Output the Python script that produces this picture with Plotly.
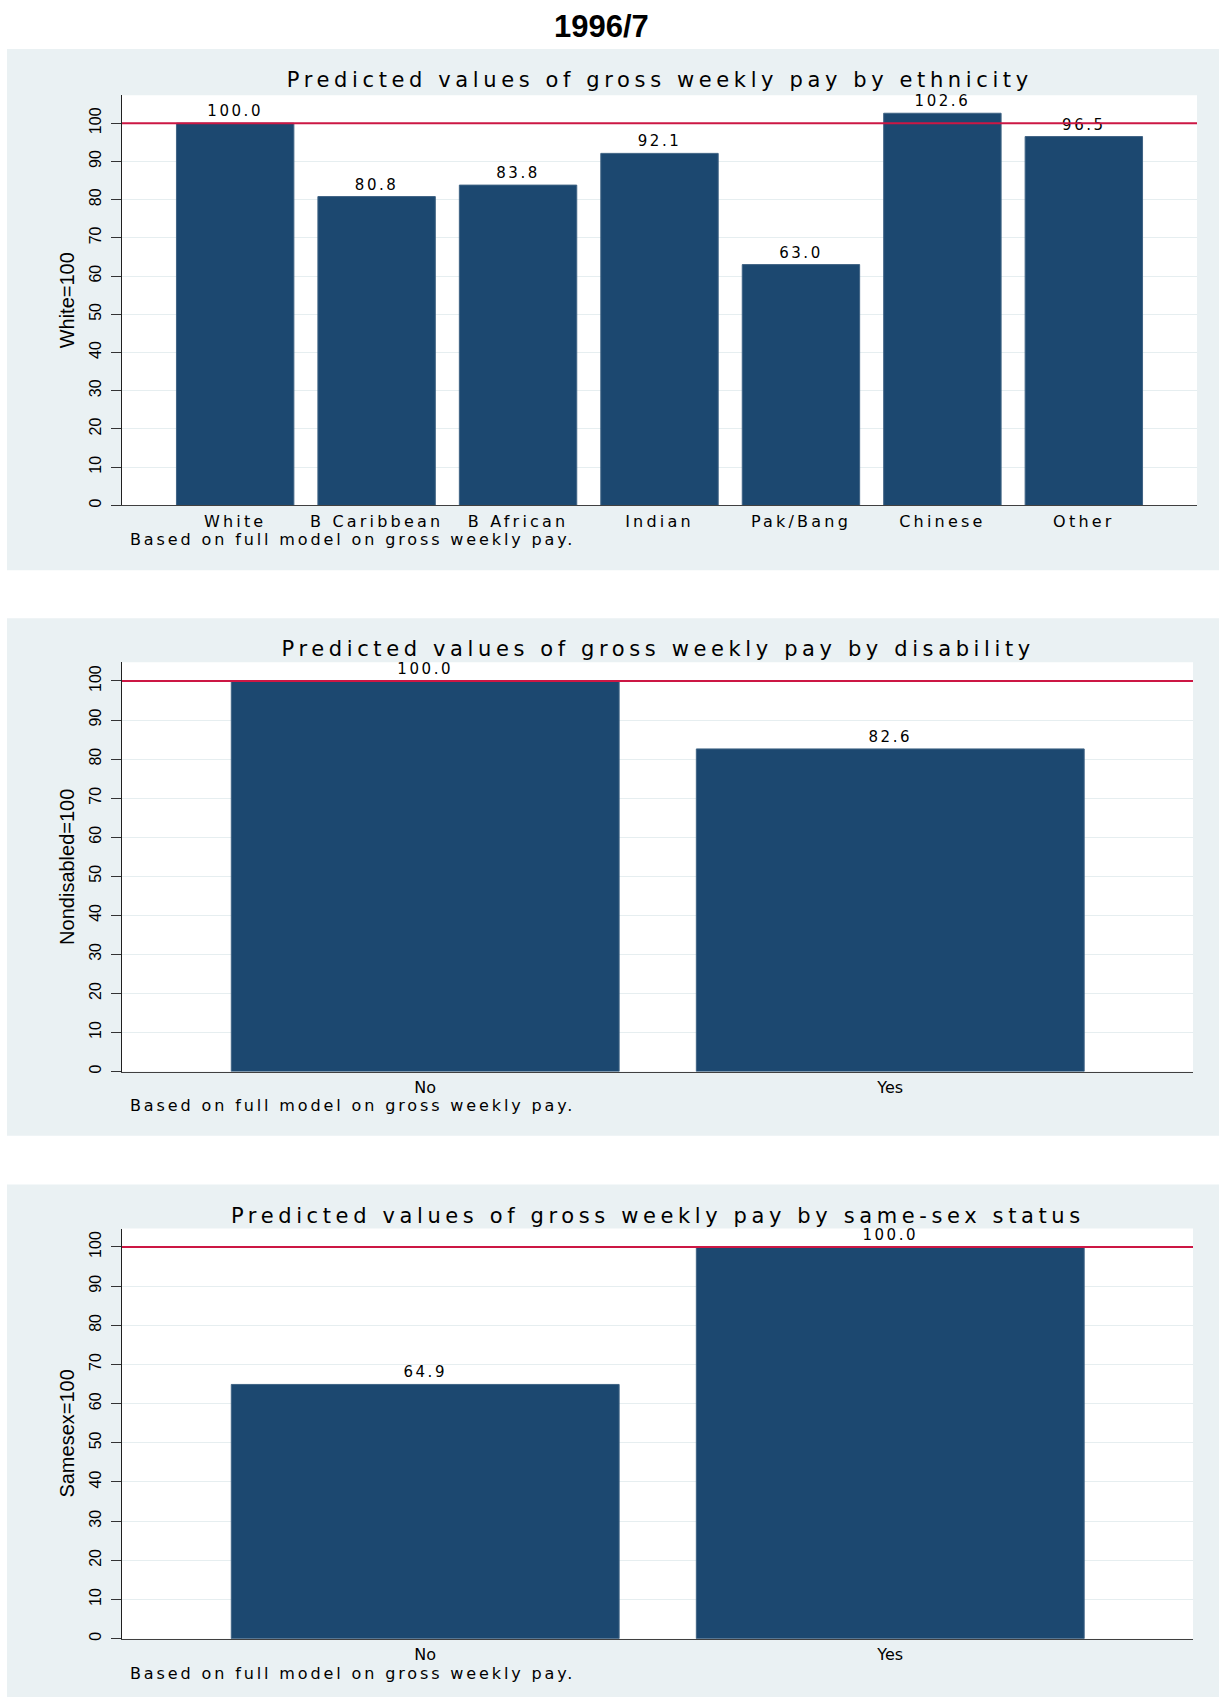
import plotly.graph_objects as go

# ---------------- data ----------------
main_title = "1996/7"
eth_categories = ["White", "B Caribbean", "B African", "Indian", "Pak/Bang", "Chinese", "Other"]
eth_values = [100.0, 80.8, 83.8, 92.1, 63.0, 102.6, 96.5]
dis_categories = ["No", "Yes"]
dis_values = [100.0, 82.6]
ss_categories = ["No", "Yes"]
ss_values = [64.9, 100.0]
panel_titles = [
    "Predicted values of gross weekly pay by ethnicity",
    "Predicted values of gross weekly pay by disability",
    "Predicted values of gross weekly pay by same-sex status",
]
y_titles = ["White=100", "Nondisabled=100", "Samesex=100"]
note_text = "Based on full model on gross weekly pay."
y_tick_values = [0, 10, 20, 30, 40, 50, 60, 70, 80, 90, 100]
reference_level = 100

# ---------------- layout (pixels) ----------------
W, H = 1219, 1699
BAR = "#1c4870"
BG = "#eaf1f3"
GRID = "#e6eef0"
RED = "#cc1744"
TXT = "DejaVu Sans"


def fx(x):
    return x / W


def fy(y):
    return 1 - y / H


panels = [
    dict(cats=eth_categories, vals=eth_values, bg=(7, 49, 1219, 571),
         plot=(122, 95.4, 1197, 506), ytop=107.3, xr=(-0.8, 6.8), width=0.83,
         title_y=80, note_y=540),
    dict(cats=dis_categories, vals=dis_values, bg=(7, 619, 1219, 1137),
         plot=(122, 663, 1193, 1072.8), ytop=104.8, xr=(-0.652, 1.651), width=0.834,
         title_y=650, note_y=1107),
    dict(cats=ss_categories, vals=ss_values, bg=(7, 1186, 1219, 1699),
         plot=(122, 1230, 1193, 1640.6), ytop=104.7, xr=(-0.652, 1.651), width=0.834,
         title_y=1217, note_y=1675),
]

fig = go.Figure()
shapes = []
annotations = [
    dict(text="<b>" + main_title + "</b>", x=fx(601), y=fy(27), xref="paper", yref="paper",
         xanchor="center", yanchor="middle", showarrow=False,
         font=dict(family="Liberation Sans", size=31, color="black")),
]
layout_axes = {}

for i, p in enumerate(panels):
    n = "" if i == 0 else str(i + 1)
    xa, ya = "x" + n, "y" + n
    x0, y0, x1, y1 = p["plot"]
    bx0, by0, bx1, by1 = p["bg"]
    fig.add_trace(go.Bar(
        x=p["cats"], y=p["vals"], xaxis=xa, yaxis=ya, width=p["width"],
        marker=dict(color=BAR, line=dict(color="#3f6384", width=1)),
        texttemplate="%{y:.1f}", textposition="outside", cliponaxis=False,
        textfont=dict(family=TXT, size=15, color="black"), showlegend=False,
        hoverinfo="x+y",
    ))
    shapes.append(dict(type="rect", xref="paper", yref="paper", x0=fx(bx0), x1=fx(bx1),
                       y0=fy(by1), y1=fy(by0), fillcolor=BG, line=dict(width=0), layer="below"))
    shapes.append(dict(type="rect", xref="paper", yref="paper", x0=fx(x0), x1=fx(x1),
                       y0=fy(y1), y1=fy(y0), fillcolor="white", line=dict(width=0), layer="below"))
    shapes.append(dict(type="line", xref=xa + " domain", yref=ya, x0=0, x1=1,
                       y0=reference_level, y1=reference_level,
                       line=dict(color=RED, width=2), layer="above"))
    annotations.append(dict(text=panel_titles[i], x=fx((x0 + x1) / 2), y=fy(p["title_y"]),
                            xref="paper", yref="paper", xanchor="center", yanchor="middle",
                            showarrow=False, font=dict(family=TXT, size=21, color="black")))
    annotations.append(dict(text=y_titles[i], x=fx(67), y=fy((y0 + y1) / 2), textangle=-90,
                            xref="paper", yref="paper", xanchor="center", yanchor="middle",
                            showarrow=False, font=dict(family="Liberation Sans", size=20, color="black")))
    annotations.append(dict(text=note_text, x=fx(128), y=fy(p["note_y"]), align="left",
                            xref="paper", yref="paper", xanchor="left", yanchor="middle",
                            showarrow=False, font=dict(family=TXT, size=16, color="black")))
    layout_axes["xaxis" + n] = dict(
        domain=[fx(x0), fx(x1)], anchor=ya, type="category", range=list(p["xr"]),
        showline=True, linecolor="#404040", linewidth=1.3, ticks="", showgrid=False,
        zeroline=False, tickfont=dict(family=TXT, size=16, color="black"),
        ticklabelstandoff=1, fixedrange=True,
    )
    layout_axes["yaxis" + n] = dict(
        domain=[fy(y1), fy(y0)], anchor=xa, range=[0, p["ytop"]],
        tickmode="array", tickvals=y_tick_values, tickangle=-90,
        showline=True, linecolor="#202020", linewidth=1.3,
        ticks="outside", ticklen=10, tickcolor="#333333", tickwidth=1,
        showgrid=True, gridcolor=GRID, gridwidth=1.2, zeroline=False,
        tickfont=dict(family="Liberation Sans", size=16, color="black"),
        ticklabelstandoff=3, fixedrange=True,
    )

fig.update_layout(
    width=W, height=H, margin=dict(l=0, r=0, t=0, b=0),
    paper_bgcolor="white", plot_bgcolor="white",
    shapes=shapes, annotations=annotations, showlegend=False, bargap=0.17,
    **layout_axes,
)

css = (
    "html,body{margin:0;padding:0;overflow:hidden}"
    ".xtick text{letter-spacing:0.2em}"
    "text.bartext{letter-spacing:0.17em}"
    "text.annotation-text[style*='DejaVu'][style*='font-size: 21px']{letter-spacing:0.22em}"
    "text.annotation-text[style*='DejaVu'][style*='font-size: 16px']{letter-spacing:0.18em}"
)
post = ("var s=document.createElement('style');s.innerHTML=\"" + css +
        "\";document.head.appendChild(s);document.body.style.margin='0';")

fig.write_html("out.html", post_script=post, config={"displayModeBar": False})
